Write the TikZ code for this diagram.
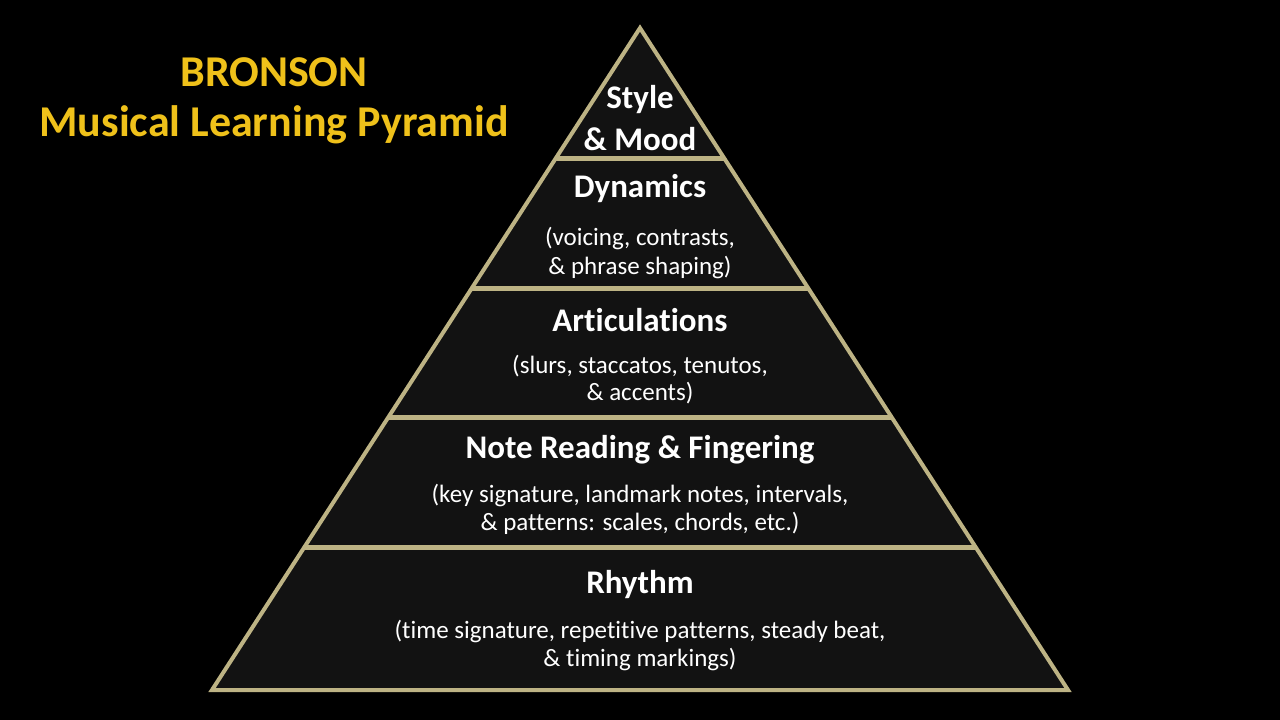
\documentclass[tikz,border=0pt]{standalone}
\usepackage{fontspec}
\setmainfont[Ligatures={NoCommon}]{Carlito}
\definecolor{tan}{HTML}{BDB384}
\definecolor{layerfill}{HTML}{121212}
\definecolor{titlegold}{HTML}{EFC11A}
\begin{document}
\begin{tikzpicture}[x=1pt,y=-1pt,
  head/.style={text=white,font=\bfseries\fontsize{33}{39}\selectfont,inner sep=0pt},
  sub/.style={text=white,font=\fontsize{25}{27}\selectfont,inner sep=0pt},
  ttl/.style={text=titlegold,font=\bfseries\fontsize{44}{52}\selectfont,inner sep=0pt},
  sep/.style={draw=tan,line width=5pt},
]
\fill[black] (0,0) rectangle (1280,720);
\useasboundingbox (0,0) rectangle (1280,720);
% pyramid body
\coordinate (apex) at (640,28);
\coordinate (bl) at (212,690);
\coordinate (br) at (1068,690);
\draw[tan,fill=layerfill,line width=4pt,line join=miter] (apex) -- (br) -- (bl) -- cycle;
% separators
\coordinate (s1l) at (555.95,158); \coordinate (s1r) at (724.05,158);
\coordinate (s2l) at (471.9,288);  \coordinate (s2r) at (808.1,288);
\coordinate (s3l) at (388.5,417);  \coordinate (s3r) at (891.5,417);
\coordinate (s4l) at (304.3,547);  \coordinate (s4r) at (975.7,547);
\draw[sep] (s1l) -- (s1r);
\draw[sep] (s2l) -- (s2r);
\draw[sep] (s3l) -- (s3r);
\draw[sep] (s4l) -- (s4r);
% title
\node[ttl] (t1) at (274,72) {BRONSON};
\node[ttl] (t2) at (274,125) {Musical Learning Pyramid};
% layer 1
\node[head] (h1a) at (640,100) {Style};
\node[head] (h1b) at (640,139) {\&~Mood};
% layer 2
\node[head] (h2) at (640,189) {Dynamics};
\node[sub] (d2a) at (640,239) {(voicing, contrasts,};
\node[sub] (d2b) at (640,268) {\&~phrase shaping)};
% layer 3
\node[head] (h3) at (640,320) {Articulations};
\node[sub] (d3a) at (640,366) {(slurs, staccatos, tenutos,};
\node[sub] (d3b) at (640,393) {\&~accents)};
% layer 4
\node[head] (h4) at (640,450) {Note Reading \& Fingering};
\node[sub] (d4a) at (640,496) {(key signature, landmark notes, intervals,};
\node[sub] (d4b) at (640,523) {\&~patterns: scales, chords, etc.)};
% layer 5
\node[head] (h5) at (640,585) {Rhythm};
\node[sub] (d5a) at (640,632) {(time signature, repetitive patterns, steady beat,};
\node[sub] (d5b) at (640,659) {\&~timing markings)};
\end{tikzpicture}
\end{document}
